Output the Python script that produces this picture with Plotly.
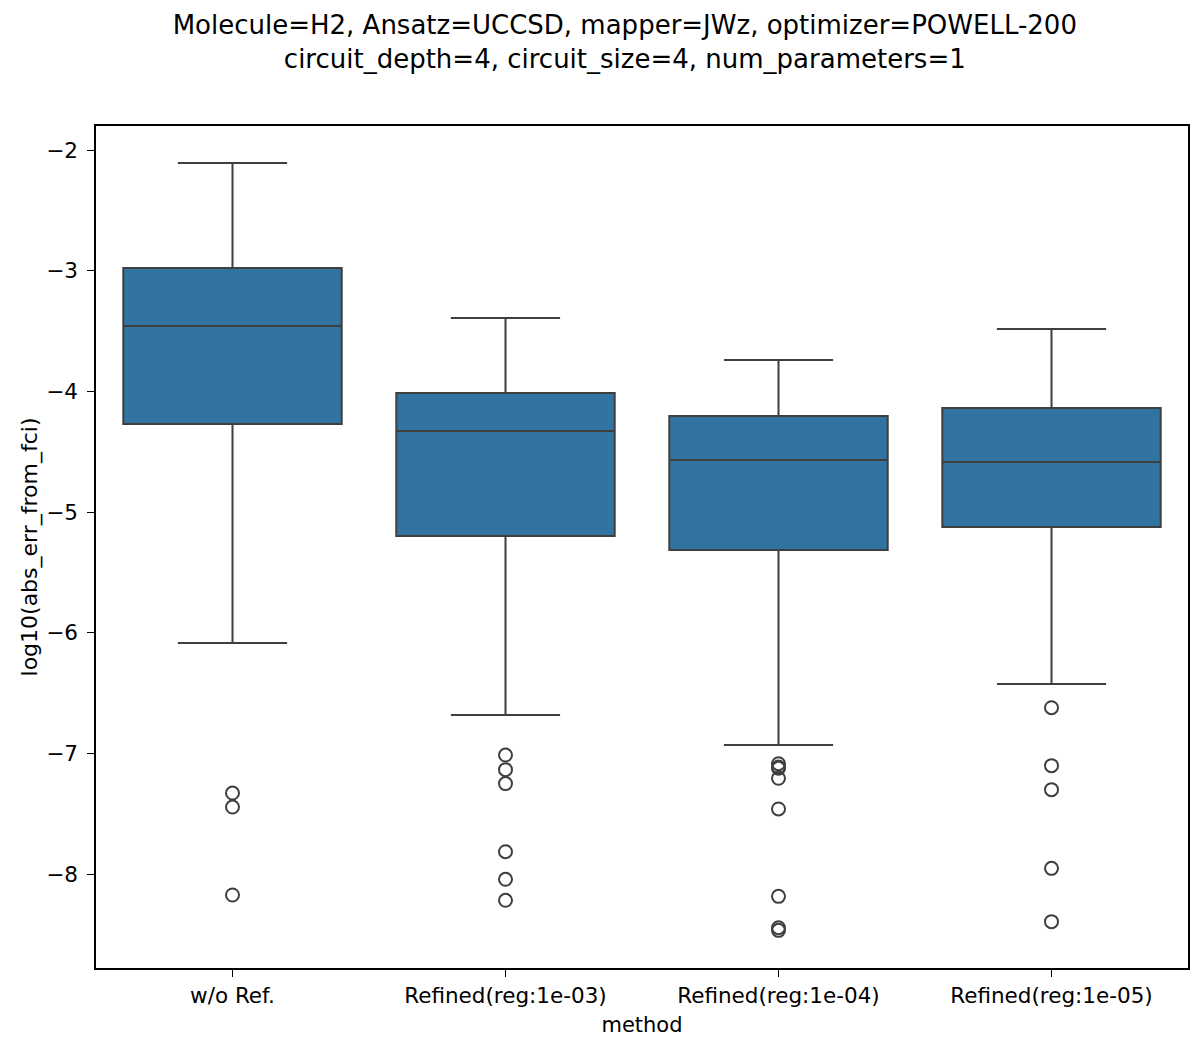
import plotly.graph_objects as go

methods = ["w/o Ref.", "Refined(reg:1e-03)", "Refined(reg:1e-04)", "Refined(reg:1e-05)"]

# box statistics (log10 of abs error)
upper_whisker = [-2.108, -3.392, -3.740, -3.483]
q3 = [-2.978, -4.014, -4.204, -4.138]
median = [-3.459, -4.329, -4.569, -4.585]
q1 = [-4.271, -5.199, -5.315, -5.124]
lower_whisker = [-6.085, -6.682, -6.931, -6.425]

outliers = {
    "w/o Ref.": [-7.329, -7.445, -8.174],
    "Refined(reg:1e-03)": [-7.014, -7.135, -7.251, -7.815, -8.044, -8.218],
    "Refined(reg:1e-04)": [-7.086, -7.113, -7.124, -7.207, -7.461, -8.185, -8.445, -8.467],
    "Refined(reg:1e-05)": [-6.622, -7.102, -7.301, -7.953, -8.395],
}

BOX_COLOR = "#3274a1"
LINE_COLOR = "#3f3f3f"

fig = go.Figure()
fig.add_trace(
    go.Box(
        x=methods,
        q1=q1,
        median=median,
        q3=q3,
        lowerfence=lower_whisker,
        upperfence=upper_whisker,
        fillcolor=BOX_COLOR,
        line=dict(color=LINE_COLOR, width=2),
        width=0.8,
        whiskerwidth=0.5,
        boxpoints=False,
        showlegend=False,
        hoverinfo="skip",
    )
)

out_x = []
out_y = []
for m in methods:
    for v in outliers[m]:
        out_x.append(m)
        out_y.append(v)

fig.add_trace(
    go.Scatter(
        x=out_x,
        y=out_y,
        mode="markers",
        marker=dict(symbol="circle-open", size=13, color=LINE_COLOR, line=dict(width=2, color=LINE_COLOR)),
        showlegend=False,
    )
)

# the page body adds ~8px offset, margins compensate for it
fig.update_layout(
    width=1200,
    height=1051,
    margin=dict(l=88, r=20, t=118, b=91),
    plot_bgcolor="white",
    paper_bgcolor="white",
    font=dict(family="DejaVu Sans", size=21, color="black"),
    title=dict(
        text="Molecule=H2, Ansatz=UCCSD, mapper=JWz, optimizer=POWELL-200<br>circuit_depth=4, circuit_size=4, num_parameters=1",
        x=0.514,
        xanchor="center",
        yref="container",
        y=0.975,
        yanchor="top",
        automargin=False,
        font=dict(family="DejaVu Sans", size=26, color="black"),
    ),
)

fig.update_xaxes(
    type="category",
    range=[-0.5, 3.5],
    title=dict(text="method", standoff=11, font=dict(size=21)),
    tickfont=dict(size=21.5),
    automargin=False,
    showline=True,
    linecolor="black",
    linewidth=1.5,
    mirror=True,
    ticks="outside",
    ticklen=7,
    tickcolor="black",
    showgrid=False,
)
fig.update_yaxes(
    range=[-8.779, -1.801],
    dtick=1,
    title=dict(text="log10(abs_err_from_fci)", standoff=3, font=dict(size=22)),
    tickfont=dict(size=21.5),
    ticklabelstandoff=5,
    automargin=False,
    showline=True,
    linecolor="black",
    linewidth=1.5,
    mirror=True,
    ticks="outside",
    ticklen=7,
    tickcolor="black",
    showgrid=False,
    zeroline=False,
    tickformat="d",
)

fig.write_html("out.html")
